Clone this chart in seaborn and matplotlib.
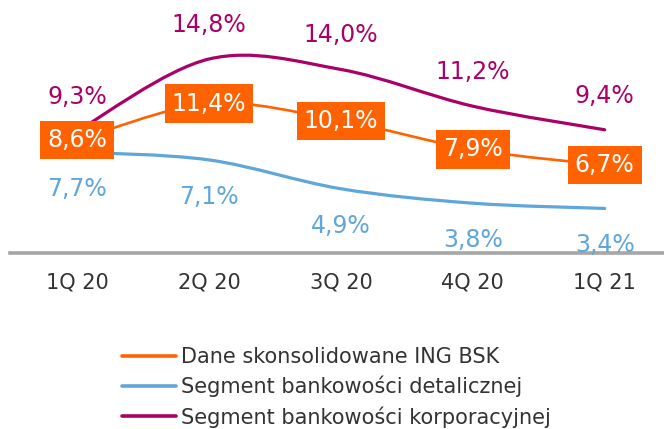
import numpy as np
import pandas as pd
import matplotlib
matplotlib.use("Agg")
import matplotlib.pyplot as plt
from matplotlib.path import Path
from matplotlib.patches import PathPatch
import seaborn as sns

# chart data
quarters = ["1Q 20", "2Q 20", "3Q 20", "4Q 20", "1Q 21"]
consolidated = [8.6, 11.4, 10.1, 7.9, 6.7]
retail = [7.7, 7.1, 4.9, 3.8, 3.4]
corporate = [9.3, 14.8, 14.0, 11.2, 9.4]
series_names = ["Dane skonsolidowane ING BSK",
                "Segment bankowości detalicznej",
                "Segment bankowości korporacyjnej"]

colors = {series_names[0]: "#FF6200",
          series_names[1]: "#5FA6DB",
          series_names[2]: "#AB0066"}

rows = []
for name, vals in zip(series_names, [consolidated, retail, corporate]):
    for i, (q, v) in enumerate(zip(quarters, vals)):
        rows.append({"pos": i, "quarter": q, "value": v, "series": name})
df = pd.DataFrame(rows)

sns.set_style("white")
plt.rcParams["font.family"] = ["DejaVu Sans"]

fig = plt.figure(figsize=(6.64, 4.29), dpi=100)
ax = fig.add_axes([10 / 664, 176 / 429, 654 / 664, 253 / 429])

sns.lineplot(data=df, x="pos", y="value", hue="series", hue_order=series_names,
             palette=colors, linewidth=2.2, sort=False, ax=ax)


def smooth_path(xs, ys):
    # catmull-rom style bezier through the data points
    pts = np.column_stack([xs, ys])
    n = len(pts)
    verts = [pts[0]]
    codes = [Path.MOVETO]
    for i in range(n - 1):
        p0 = pts[max(i - 1, 0)]
        p1 = pts[i]
        p2 = pts[i + 1]
        p3 = pts[min(i + 2, n - 1)]
        verts += [p1 + (p2 - p0) / 6, p2 - (p3 - p1) / 6, p2]
        codes += [Path.CURVE4] * 3
    return Path(verts, codes)


# replace straight segments with smooth curves
zorders = {series_names[0]: 3, series_names[1]: 2.5, series_names[2]: 2}
for line, name in zip(list(ax.lines), series_names):
    xs, ys = line.get_xdata(), line.get_ydata()
    line.set_visible(False)
    patch = PathPatch(smooth_path(np.asarray(xs, float), np.asarray(ys, float)),
                      facecolor="none", edgecolor=colors[name],
                      lw=2.3 if name != series_names[0] else 1.9,
                      capstyle="round", zorder=zorders[name])
    ax.add_patch(patch)


def fmt(v):
    return f"{v:.1f}%".replace(".", ",")


for i, v in enumerate(corporate):
    ax.annotate(fmt(v), (i, v), xytext=(0, 24.5), textcoords="offset points",
                ha="center", va="center", fontsize=17, color=colors[series_names[2]])
for i, v in enumerate(retail):
    ax.annotate(fmt(v), (i, v), xytext=(0, -26.5), textcoords="offset points",
                ha="center", va="center", fontsize=17, color=colors[series_names[1]])
for i, v in enumerate(consolidated):
    ax.annotate(fmt(v), (i, v), ha="center", va="center", fontsize=17, color="white",
                zorder=5,
                bbox=dict(boxstyle="square,pad=0.3", fc=colors[series_names[0]], ec="none"))

ax.set_xlim(-0.51, 4.45)
ax.set_ylim(0, 19.3)
ax.set_xticks(range(len(quarters)))
ax.set_xticklabels(quarters)
ax.set_yticks([])
ax.set_xlabel("")
ax.set_ylabel("")
ax.tick_params(axis="x", length=0, pad=14, labelsize=15, labelcolor="#333333")
for s in ["top", "right", "left"]:
    ax.spines[s].set_visible(False)
ax.spines["bottom"].set_color("#A6A6A6")
ax.spines["bottom"].set_linewidth(2.6)
ax.patch.set_alpha(0)

sns.move_legend(ax, "upper left", bbox_to_anchor=(122 / 664, 1 - 347 / 429),
                bbox_transform=fig.transFigure, frameon=False, title=None,
                fontsize=15, handlelength=2.6, handletextpad=0.25,
                labelspacing=0.42, borderpad=0, borderaxespad=0)
leg = ax.get_legend()
for t in leg.get_texts():
    t.set_color("#333333")
for h in leg.legend_handles:
    h.set_linewidth(2.6)

fig.savefig("out.png", dpi=100)
